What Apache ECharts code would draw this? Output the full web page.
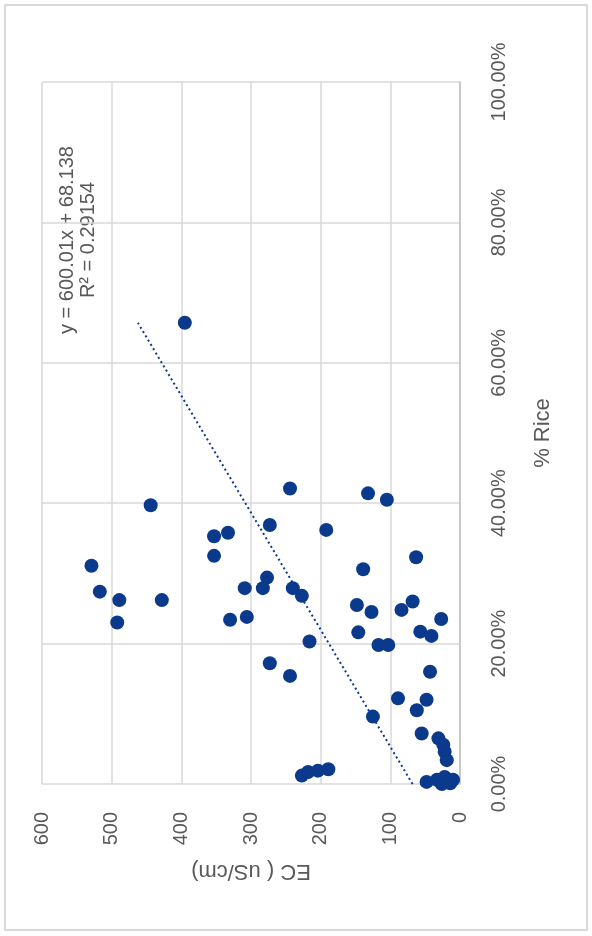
<!DOCTYPE html>
<html>
<head>
<meta charset="utf-8">
<script src="https://cdn.jsdelivr.net/npm/echarts@6/dist/echarts.min.js"></script>
<style>
  html, body { margin: 0; padding: 0; background: #ffffff; }
  #chart { width: 592px; height: 936px; }
</style>
</head>
<body>
<div id="chart"></div>
<script>
// Share of rice (fraction) and electrical conductivity for each sample
const riceShare = [
  0.657, 0.397, 0.421, 0.414, 0.405, 0.369, 0.362, 0.353, 0.358, 0.325,
  0.323, 0.306, 0.311, 0.274, 0.262, 0.262, 0.230, 0.279, 0.279, 0.294,
  0.279, 0.268, 0.234, 0.238, 0.203, 0.172, 0.154, 0.012, 0.017, 0.019,
  0.021, 0.255, 0.245, 0.248, 0.260, 0.235, 0.216, 0.198, 0.198, 0.217,
  0.211, 0.160, 0.122, 0.120, 0.105, 0.096, 0.072, 0.065, 0.056, 0.046,
  0.034, 0.003, 0.006, 0.010, 0.001, 0.006, 0.000
];
const ecValues = [
  395, 444, 244, 132, 105, 273, 192, 353, 333, 353,
  63, 139, 529, 517, 489, 428, 492, 309, 283, 277,
  240, 227, 330, 306, 216, 273, 244, 227, 218, 204,
  189, 148, 127, 84, 68, 27, 146, 117, 103, 57,
  41, 43, 89, 48, 62, 125, 55, 31, 24, 22,
  19, 48, 33, 22, 14, 10, 26
];

// Linear trendline as stated on the chart
const trendSlope = 600.01;
const trendIntercept = 68.138;
const trendR2 = 0.29154;

// Axis ticks
const ecTicks = { min: 0, max: 600, step: 100 };
const riceTicks = { min: 0, max: 1, step: 0.2 };

const navy = '#0b3a8c';
const textGray = '#595959';
const fontFamily = '"Liberation Sans", Arial, sans-serif';

const points = riceShare.map((r, i) => [ecValues[i], r]);
const maxShare = Math.max(...riceShare);
const trendPoints = [
  [trendIntercept, 0],
  [trendSlope * maxShare + trendIntercept, maxShare]
];

const chart = echarts.init(document.getElementById('chart'), null, { renderer: 'canvas' });

chart.setOption({
  animation: false,
  backgroundColor: '#ffffff',
  grid: { left: 42, right: 132, top: 82, bottom: 152, containLabel: false },
  xAxis: {
    type: 'value',
    inverse: true,
    position: 'bottom',
    min: ecTicks.min, max: ecTicks.max, interval: ecTicks.step,
    name: 'EC ( uS/cm)',
    nameLocation: 'middle',
    nameRotate: 180,
    nameGap: 76,
    nameTextStyle: { color: textGray, fontSize: 22, fontFamily },
    axisLine: { show: false },
    axisTick: { show: false },
    axisLabel: { rotate: 90, margin: 28, color: textGray, fontSize: 20, fontFamily },
    splitLine: { show: true, lineStyle: { color: '#d9d9d9', width: 1.5 } }
  },
  yAxis: {
    type: 'value',
    position: 'right',
    min: riceTicks.min, max: riceTicks.max, interval: riceTicks.step,
    name: '% Rice',
    nameLocation: 'middle',
    nameRotate: 90,
    nameGap: 72,
    nameTextStyle: { color: textGray, fontSize: 22, fontFamily },
    axisLine: { show: true, onZero: false, lineStyle: { color: '#bfbfbf', width: 1.5 } },
    axisTick: { show: false },
    axisLabel: {
      rotate: 90, margin: 29, color: textGray, fontSize: 20, fontFamily,
      formatter: v => (v * 100).toFixed(2) + '%'
    },
    splitLine: { show: true, lineStyle: { color: '#d9d9d9', width: 1.5 } }
  },
  graphic: [
    {
      type: 'rect',
      shape: { x: 5, y: 5, width: 582, height: 925 },
      style: { fill: 'none', stroke: '#d9d9d9', lineWidth: 2 },
      silent: true
    },
    {
      type: 'text',
      x: 78, y: 240,
      rotation: Math.PI / 2,
      style: {
        text: 'y = ' + trendSlope.toFixed(2) + 'x + ' + trendIntercept.toFixed(3) + '\nR² = ' + trendR2,
        align: 'center',
        verticalAlign: 'middle',
        fill: textGray,
        fontSize: 20,
        lineHeight: 21,
        fontFamily
      },
      silent: true
    }
  ],
  series: [
    {
      type: 'line',
      data: trendPoints,
      showSymbol: false,
      symbol: 'none',
      lineStyle: { color: navy, width: 2, type: [2, 3] },
      z: 2
    },
    {
      type: 'scatter',
      data: points,
      symbol: 'circle',
      symbolSize: 14,
      itemStyle: { color: navy, opacity: 1 },
      z: 3
    }
  ]
});
</script>
</body>
</html>
